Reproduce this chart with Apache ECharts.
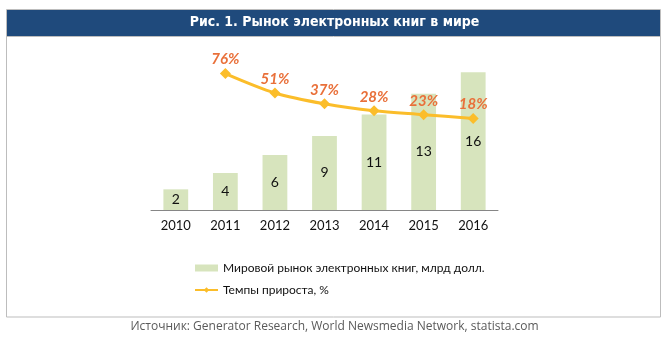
<!DOCTYPE html>
<html><head><meta charset="utf-8">
<script src="https://cdn.jsdelivr.net/npm/echarts@6/dist/echarts.min.js"></script>
<style>html,body{margin:0;padding:0;background:#fff;}#c{width:669px;height:355px;}</style>
</head><body><div id="c"></div>
<script>
const categories = ['2010','2011','2012','2013','2014','2015','2016'];
const marketValues = [2.4, 4.3, 6.4, 8.6, 11.1, 13.5, 16.0];
const marketLabels = ['2','4','6','9','11','13','16'];
const growthValues = [null, 76, 51, 37, 28, 23, 18];
const seriesNames = ['Мировой рынок электронных книг, млрд долл.', 'Темпы прироста, %'];
const titleText = 'Рис. 1. Рынок электронных книг в мире';
const sourceText = 'Источник: Generator Research, World Newsmedia Network, statista.com';

const chart = echarts.init(document.getElementById('c'));
const font = 'Lato';
chart.setOption({
  animation: false,
  graphic: [
    {type:'rect', shape:{x:6.5,y:9.5,width:654,height:307.5}, style:{fill:'#fff',stroke:'#bdbdbd',lineWidth:1}, z:-10},
    {type:'rect', shape:{x:7,y:10,width:653,height:26}, style:{fill:'#1f4a7c'}, z:-9},
    {type:'line', shape:{x1:7,y1:36.5,x2:660,y2:36.5}, style:{stroke:'#bdbdbd',lineWidth:1}, z:-9},
    {type:'text', left:'center', top:15, style:{text:titleText, fill:'#fff', font:'bold 14px "DejaVu Sans Condensed", Lato'}},
    {type:'text', left:'center', top:321, style:{text:sourceText, fill:'#5a5a5a', font:'12px "Open Sans"'}}
  ],
  grid: {left:151, right:171, top:55, bottom:145},
  legend: {
    orient:'vertical', left:189, top:256, itemWidth:23, itemHeight:7, itemGap:8,
    textStyle:{fontFamily:font, fontSize:12, color:'#111', lineHeight:14},
    data:[{name:seriesNames[0], icon:'rect'}, {name:seriesNames[1]}]
  },
  xAxis: {
    type:'category', data:categories,
    axisLine:{lineStyle:{color:'#868686'}},
    axisTick:{length:4, lineStyle:{color:'#868686'}},
    axisLabel:{fontFamily:font, fontSize:13, color:'#111', margin:9}
  },
  yAxis: [
    {type:'value', min:0, max:18, show:false, splitLine:{show:false}},
    {type:'value', min:-100, max:100, show:false, splitLine:{show:false}}
  ],
  series: [
    {
      name:seriesNames[0], type:'bar', data:marketValues, barWidth:'50%', yAxisIndex:0,
      itemStyle:{color:'#d7e4bd'},
      label:{show:true, position:'inside', fontFamily:font, fontSize:14, color:'#111',
        formatter:p=>marketLabels[p.dataIndex]}
    },
    {
      name:seriesNames[1], type:'line', data:growthValues, yAxisIndex:1,
      symbol:'diamond', symbolSize:11, lineStyle:{color:'#fbbd2a', width:3},
      itemStyle:{color:'#fbbd2a'}, smooth:0.3,
      label:{show:true, position:'top', distance:1, fontFamily:font, fontSize:15, fontWeight:'bold',
        fontStyle:'italic', color:'#e9703a', formatter:p=>p.value+'%'}
    }
  ]
});
</script></body></html>
